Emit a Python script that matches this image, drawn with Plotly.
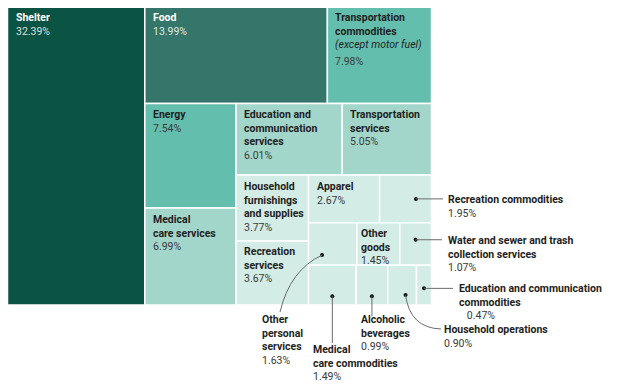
import plotly.graph_objects as go

# ---------------- data ----------------
categories = [
    "Shelter", "Food", "Transportation commodities", "Energy", "Medical care services",
    "Education and communication services", "Transportation services",
    "Household furnishings and supplies", "Recreation services", "Apparel",
    "Recreation commodities", "Other personal services", "Other goods",
    "Water and sewer and trash collection services", "Medical care commodities",
    "Alcoholic beverages", "Household operations", "Education and communication commodities",
]
weights = [32.39, 13.99, 7.98, 7.54, 6.99, 6.01, 5.05, 3.77, 3.67, 2.67,
           1.95, 1.63, 1.45, 1.07, 1.49, 0.99, 0.90, 0.47]
display_names = [
    "Shelter", "Food", "Transportation<br>commodities", "Energy", "Medical<br>care services",
    "Education and<br>communication<br>services", "Transportation<br>services",
    "Household<br>furnishings<br>and supplies", "Recreation<br>services", "Apparel",
    "Recreation commodities", "Other<br>personal<br>services", "Other<br>goods",
    "Water and sewer and trash<br>collection services", "Medical<br>care commodities",
    "Alcoholic<br>beverages", "Household operations", "Education and communication<br>commodities",
]
notes = {"Transportation commodities": "(except motor fuel)"}

# tiling structure: number of consecutive items per strip and strip orientation
strips = [(1, "col"), (2, "row"), (2, "col"), (2, "row"), (2, "col"), (2, "row"), (3, "row"), (4, "row")]

# ---------------- layout / style ----------------
W, H = 624, 387
OFF = 8  # page body margin in the browser
BOX = (7.5, 6.5, 431.5, 305.0)
FONT = "Roboto"
FS = 10.5
LH = FS * 1.3


def color_for(v):
    if v > 30:
        return "#0b5342"
    if v > 10:
        return "#34766a"
    if v > 7:
        return "#64bead"
    if v > 5:
        return "#a3d6cb"
    return "#d3ece6"


# compute rectangles from the values
rects = []
x0, y0, x1, y1 = BOX
remaining = sum(weights)
i = 0
for n, orient in strips:
    grp = weights[i:i + n]
    s = sum(grp)
    if orient == "col":
        w = (x1 - x0) * s / remaining
        yy = y0
        for v in grp:
            h = (y1 - y0) * v / s
            rects.append((x0, yy, x0 + w, yy + h))
            yy += h
        x0 += w
    else:
        h = (y1 - y0) * s / remaining
        xx = x0
        for v in grp:
            w = (x1 - x0) * v / s
            rects.append((xx, y0, xx + w, y0 + h))
            xx += w
        y0 += h
    remaining -= s
    i += n

fig = go.Figure()
for name, v, (a, b, c, d) in zip(categories, weights, rects):
    fig.add_trace(go.Scatter(
        x=[a, c, c, a, a], y=[b, b, d, d, b], mode="lines", fill="toself",
        fillcolor=color_for(v), line=dict(color="white", width=1.5),
        hoverinfo="text", text=f"{name}: {v:.2f}%", showlegend=False,
    ))

annotations = []

# callouts (label positions in pixels; dot location as fraction of the cell)
callouts = {
    "Recreation commodities": dict(dot=(0.70, 0.50), kind="h", end=443, lab=(447, 192)),
    "Water and sewer and trash collection services": dict(dot=(0.50, 0.40), kind="h", end=442, lab=(447, 233)),
    "Education and communication commodities": dict(dot=(0.50, 0.58), kind="h", end=453, lab=(458, 281), indent=3),
    "Household operations": dict(dot=(0.62, 0.75), kind="q", ctrl=(410, 328), end=(441, 329), lab=(443, 322)),
    "Alcoholic beverages": dict(dot=(0.50, 0.78), kind="v", end=316, lab=(360, 312)),
    "Medical care commodities": dict(dot=(0.50, 0.78), kind="v", end=343, lab=(312, 342)),
    "Other personal services": dict(dot=(0.28, 0.76), kind="q", ctrl=(290, 270), end=(280, 312), lab=(261, 312)),
}

pad_override = {"Other goods": 3}
shapes = []
dots_x, dots_y = [], []

for name, disp, v, (a, b, c, d) in zip(categories, display_names, weights, rects):
    val = f"{v:.2f}%"
    dark = v > 10
    lab_col = "white" if dark else "#1e1e1e"
    val_col = "rgba(255,255,255,0.85)" if dark else "#3a3a3a"
    if name in callouts:
        co = callouts[name]
        dx = a + (c - a) * co["dot"][0]
        dy = b + (d - b) * co["dot"][1]
        dots_x.append(dx)
        dots_y.append(dy)
        if co["kind"] == "h":
            path = f"M {dx} {dy} L {co['end']} {dy}"
        elif co["kind"] == "v":
            path = f"M {dx} {dy} L {dx} {co['end']}"
        else:
            cx, cy = co["ctrl"]
            ex, ey = co["end"]
            path = f"M {dx} {dy} Q {cx} {cy} {ex} {ey}"
        shapes.append(dict(type="path", path=path, xref="x", yref="y",
                           line=dict(color="#6b6b6b", width=1), layer="above"))
        ind = "&nbsp;" * co.get("indent", 0)
        annotations.append(dict(
            x=co["lab"][0], y=co["lab"][1], xref="x", yref="y", xanchor="left", yanchor="top",
            align="left", showarrow=False,
            text=f"<b>{disp}</b><br><span style='color:#3a3a3a'>{ind}{val}</span>",
            font=dict(family=FONT, size=FS, color="#1e1e1e"), borderpad=0,
        ))
    else:
        pad = pad_override.get(name, 7)
        if name in notes:
            text = f"<b>{disp}</b><br><i>{notes[name]}</i>"
            annotations.append(dict(
                x=a + pad, y=b + 3.5, xref="x", yref="y", xanchor="left", yanchor="top",
                align="left", showarrow=False, text=text,
                font=dict(family=FONT, size=FS, color=lab_col), borderpad=0,
            ))
            annotations.append(dict(
                x=a + pad, y=b + 3.5 + 3 * LH + 3, xref="x", yref="y", xanchor="left", yanchor="top",
                align="left", showarrow=False, text=val,
                font=dict(family=FONT, size=FS, color=val_col), borderpad=0,
            ))
        else:
            text = f"<b>{disp}</b><br><span style='color:{val_col}'>{val}</span>"
            annotations.append(dict(
                x=a + pad, y=b + 3.5, xref="x", yref="y", xanchor="left", yanchor="top",
                align="left", showarrow=False, text=text,
                font=dict(family=FONT, size=FS, color=lab_col), borderpad=0,
            ))

fig.add_trace(go.Scatter(x=dots_x, y=dots_y, mode="markers",
                         marker=dict(color="#111111", size=4), hoverinfo="skip", showlegend=False))

fig.update_layout(
    width=W - OFF, height=H - OFF, margin=dict(l=0, r=0, t=0, b=0),
    paper_bgcolor="white", plot_bgcolor="white",
    xaxis=dict(range=[OFF, W], visible=False, fixedrange=True),
    yaxis=dict(range=[H, OFF], visible=False, fixedrange=True),
    shapes=shapes, annotations=annotations, showlegend=False,
)

fig.write_html("out.html", config={"displayModeBar": False})
